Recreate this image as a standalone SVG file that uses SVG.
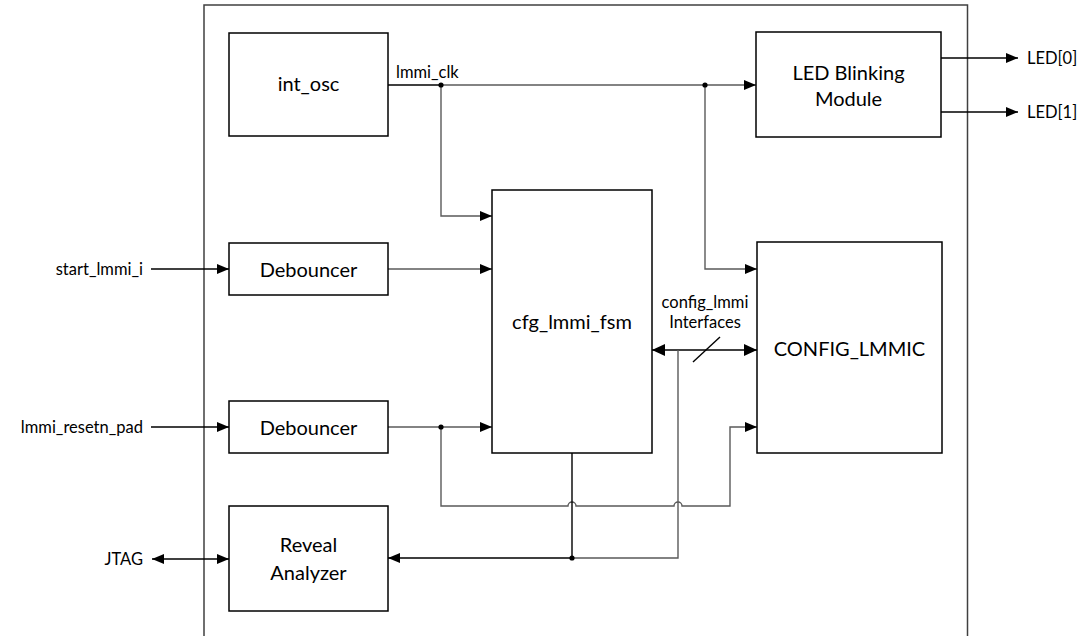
<svg xmlns="http://www.w3.org/2000/svg" width="1078" height="636" viewBox="0 0 1078 636">
<style>
.box{fill:#fff;stroke:#000;stroke-width:1.5}
.bt{font-family:Lato,"Liberation Sans",sans-serif;font-size:20px;fill:#000;text-anchor:middle}
.lt{font-family:Lato,"Liberation Sans",sans-serif;font-size:16.5px;fill:#000}
.w{fill:none;stroke:#000;stroke-width:1.4}
.g{fill:none;stroke:#5a5a5a;stroke-width:1.4}
</style>
<defs>
<marker id="ah" markerUnits="userSpaceOnUse" markerWidth="12" markerHeight="10" refX="12" refY="5" orient="auto-start-reverse" viewBox="0 0 12 10"><path d="M0,0 L12,5 L0,10 z" fill="#000"/></marker>
<marker id="ahb" markerUnits="userSpaceOnUse" markerWidth="13" markerHeight="12" refX="13" refY="6" orient="auto-start-reverse" viewBox="0 0 13 12"><path d="M0,0 L13,6 L0,12 z" fill="#000"/></marker>
</defs>
<rect x="204" y="5" width="763.5" height="640" fill="none" stroke="#404040" stroke-width="1.5"/>
<g id="connectors">
<path class="w" d="M388,85 H441" stroke-width="2"/>
<path class="g" d="M441,85 H756" marker-end="url(#ah)"/>
<path class="g" d="M441,85 V216 H492" marker-end="url(#ah)"/>
<path class="g" d="M705,85 V269 H757" marker-end="url(#ah)"/>
<path class="w" d="M151,269 H229" marker-end="url(#ah)"/>
<path class="g" d="M388,269 H492" marker-end="url(#ah)"/>
<path class="w" d="M151,427 H229" marker-end="url(#ah)"/>
<path class="g" d="M388,427 H492" marker-end="url(#ah)"/>
<path class="g" d="M441,427 V506 H568 a4,4 0 0 1 8,0 H674 a4,4 0 0 1 8,0 H730 V427 H757" marker-end="url(#ah)"/>
<path class="w" d="M652,350 H757" stroke-width="3" marker-start="url(#ahb)" marker-end="url(#ahb)"/>
<path class="w" d="M693,362 L720,337"/>
<path class="g" d="M678,350 V558 H572"/>
<path class="w" d="M572,453 V558 H388" marker-end="url(#ah)"/>
<path class="w" d="M152,559 H229" marker-start="url(#ah)" marker-end="url(#ah)"/>
<path class="w" d="M941,58 H1018" marker-end="url(#ah)"/>
<path class="w" d="M941,112 H1018" marker-end="url(#ah)"/>
<circle cx="441" cy="85" r="2.6" fill="#000"/>
<circle cx="705" cy="85" r="2.6" fill="#000"/>
<circle cx="441" cy="427" r="2.6" fill="#000"/>
<circle cx="572" cy="558" r="2.6" fill="#000"/>
</g>
<g id="int_osc"><rect class="box" x="229" y="33" width="159" height="103"/><text class="bt" x="308.5" y="91">int_osc</text></g>
<g id="led"><rect class="box" x="756" y="32" width="185" height="105"/><text class="bt" x="848.5" y="80">LED Blinking</text><text class="bt" x="848.5" y="106">Module</text></g>
<g id="fsm"><rect class="box" x="492" y="190" width="160" height="263"/><text class="bt" x="572" y="329">cfg_lmmi_fsm</text></g>
<g id="deb1"><rect class="box" x="229" y="243" width="159" height="52"/><text class="bt" x="308.5" y="277">Debouncer</text></g>
<g id="deb2"><rect class="box" x="229" y="401" width="159" height="52"/><text class="bt" x="308.5" y="435">Debouncer</text></g>
<g id="config"><rect class="box" x="757" y="242" width="185" height="211"/><text class="bt" x="849.5" y="356">CONFIG_LMMIC</text></g>
<g id="reveal"><rect class="box" x="229" y="506" width="159" height="105"/><text class="bt" x="308.5" y="552">Reveal</text><text class="bt" x="308.5" y="580">Analyzer</text></g>
<g id="labels">
<text class="lt" x="396" y="78">lmmi_clk</text>
<text class="lt" x="143" y="275" text-anchor="end">start_lmmi_i</text>
<text class="lt" x="143" y="433" text-anchor="end">lmmi_resetn_pad</text>
<text class="lt" x="143" y="565" text-anchor="end">JTAG</text>
<text class="lt" x="1027" y="64">LED[0]</text>
<text class="lt" x="1027" y="118">LED[1]</text>
<text class="lt" x="705" y="308" text-anchor="middle">config_lmmi</text>
<text class="lt" x="705" y="328" text-anchor="middle">Interfaces</text>
</g>
</svg>
